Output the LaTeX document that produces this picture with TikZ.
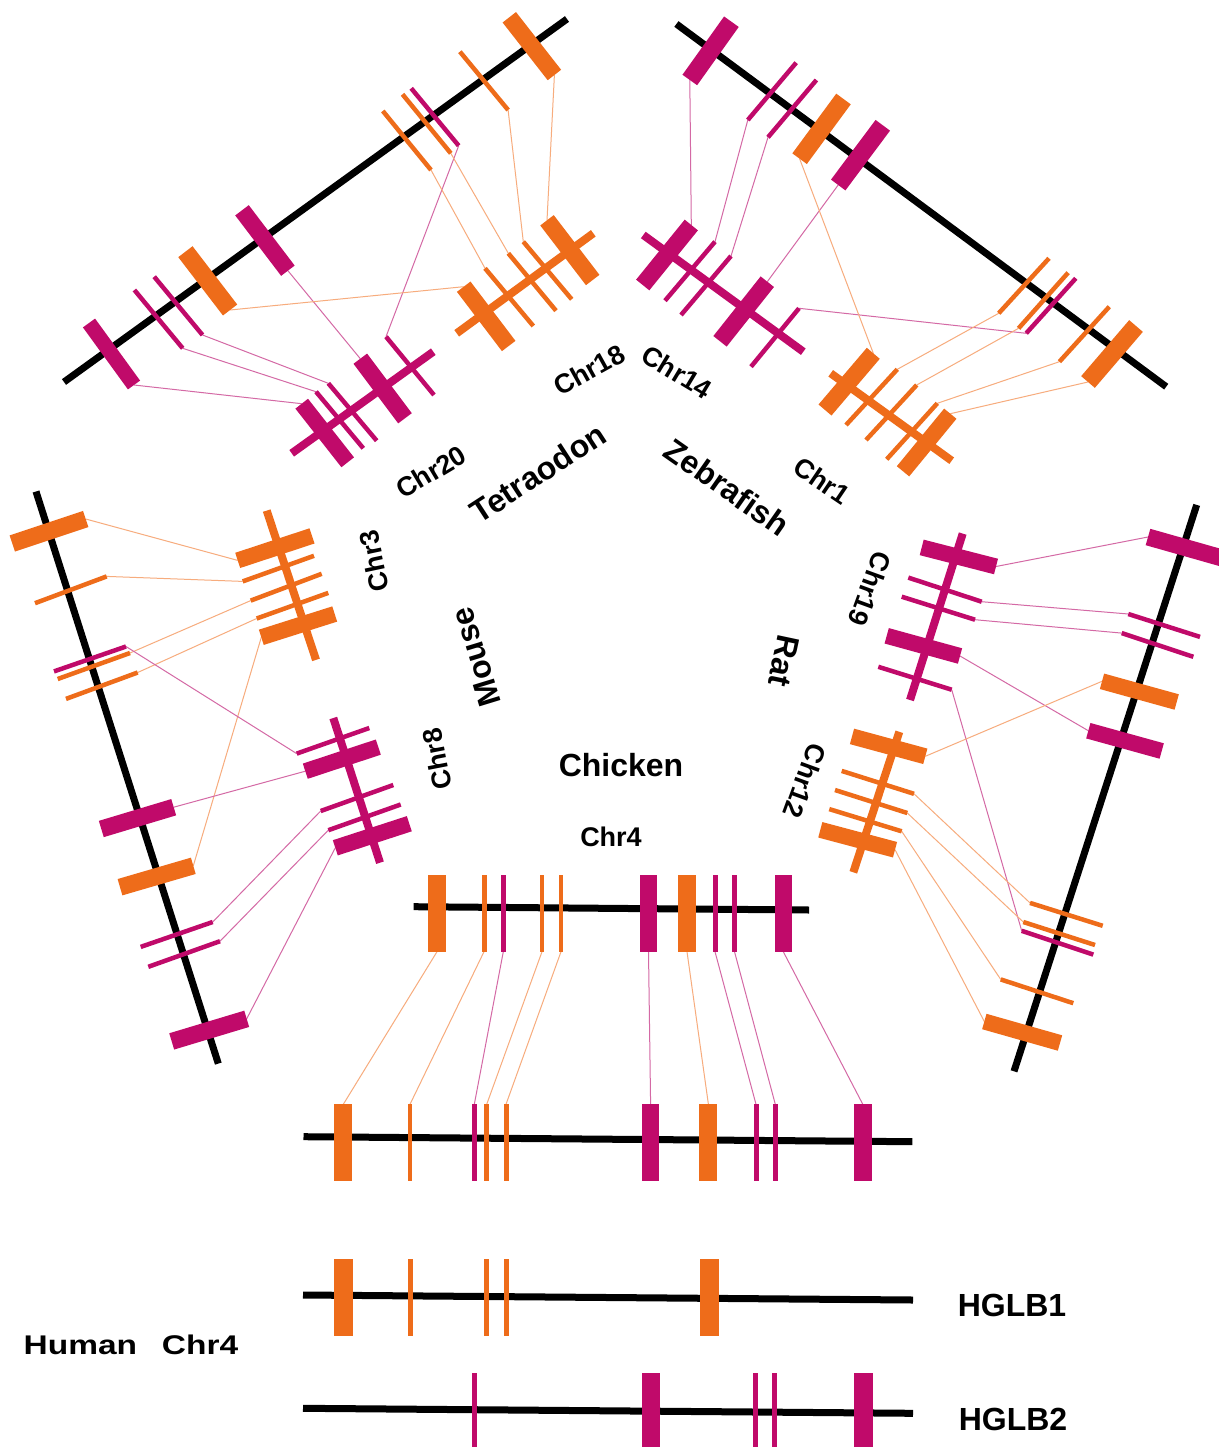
\documentclass[tikz,border=0pt]{standalone}
\usepackage{fontspec}
\setmainfont{Liberation Sans}
\definecolor{og}{RGB}{238,108,26}
\definecolor{mg}{RGB}{192,10,106}
\definecolor{ogl}{RGB}{247,172,125}
\definecolor{mgl}{RGB}{212,105,165}
\pgfdeclarelayer{back}
\pgfdeclarelayer{bg}
\pgfsetlayers{back,bg,main}
\newcommand\gene[5]{\coordinate (#1-1) at (#2); \coordinate (#1-2) at (#3); \draw[line width=#4pt, draw=#5] (#1-1) -- (#1-2);}
\newcommand\vgene[6]{\coordinate (#1-1) at (#2,#3); \coordinate (#1-2) at (#2,#4); \draw[line width=#5pt, draw=#6] (#1-1) -- (#1-2);}
\tikzset{
  conO/.style={draw=ogl, line width=1pt},
  conM/.style={draw=mgl, line width=1pt},
  chrom/.style={draw=black, line width=7pt},
  smallO/.style={draw=og, line width=8pt},
  smallM/.style={draw=mg, line width=8pt},
  lab/.style={font=\bfseries\fontsize{27}{29}\selectfont, inner sep=0pt},
  big/.style={font=\bfseries\fontsize{32}{34}\selectfont, inner sep=0pt}
}
\begin{document}
\begin{tikzpicture}[x=1pt,y=-1pt]
\useasboundingbox (0,0) rectangle (1218,1447);
\begin{pgfonlayer}{back}
\fill[white] (0,0) rectangle (1218,1447);
\end{pgfonlayer}

% ---------- Tetraodon ----------
\coordinate (TL1) at (64,382); \coordinate (TL2) at (567,19);
\draw[chrom] (TL1) -- (TL2);
\gene{ta}{89,323}{134,385}{15}{mg}
\gene{tb}{134.4,290}{182.7,348.3}{4.5}{mg}
\gene{tc}{154.2,276.7}{202.5,335}{4.5}{mg}
\gene{td}{185.4,251.7}{230.1,310}{18}{og}
\gene{te}{242,210.3}{287.9,270.7}{17}{mg}
\gene{tf}{382.8,111}{431,170}{4.5}{og}
\gene{tg}{402.5,94.3}{450.8,153.3}{4.5}{og}
\gene{th}{411.2,88.3}{458.7,145.7}{4.5}{mg}
\gene{ti}{459.9,51.7}{508.1,110}{4.5}{og}
\gene{tj}{509.3,17.3}{554.4,75}{17}{og}

\coordinate (U1) at (291.7,453.3); \coordinate (U2) at (433.3,351.7);
\draw[smallM] (U1) -- (U2);
\gene{ua}{301.7,403.7}{347.7,462.3}{16}{mg}
\gene{ub}{316,391.7}{363.3,448.3}{4.5}{mg}
\gene{uc}{328.3,383.3}{376.7,440.7}{4.5}{mg}
\gene{ud}{360.3,358.7}{405,418.3}{17}{mg}
\gene{ue}{386,336.7}{434,395}{4.5}{mg}

\coordinate (V1) at (456.7,333.3); \coordinate (V2) at (593.3,233.3);
\draw[smallO] (V1) -- (V2);
\gene{va}{463.7,286.7}{508.7,346}{17}{og}
\gene{vb}{485,268.3}{533.3,326}{4.5}{og}
\gene{vc}{508.3,253.3}{556,310.7}{4.5}{og}
\gene{vd}{523.3,241.7}{571.7,299.3}{4.5}{og}
\gene{ve}{547,220.3}{592.7,280}{17}{og}

% ---------- Zebrafish ----------
\coordinate (ZL1) at (676.4,24); \coordinate (ZL2) at (1166.2,386.7);
\draw[chrom] (ZL1) -- (ZL2);
\gene{za}{731.4,21.7}{689.8,80}{18}{mg}
\gene{zb}{796.2,62.7}{747.8,120}{4.5}{mg}
\gene{zc}{816.4,80}{768,137.3}{4.5}{mg}
\gene{zd}{843.5,99}{799.6,158.7}{18}{og}
\gene{ze}{882.8,125.3}{838.2,185}{18}{mg}
\gene{zf}{1049,258.3}{998.7,313.3}{4.5}{og}
\gene{zg}{1068.1,272.7}{1018.6,328.3}{4.5}{og}
\gene{zh}{1075.8,278.3}{1026.2,333.3}{4.5}{mg}
\gene{zi}{1109.3,306.7}{1059.4,361.7}{4.5}{og}
\gene{zj}{1136,326}{1088,382}{18}{og}

\coordinate (W1) at (643.3,235); \coordinate (W2) at (803.3,351.7);
\draw[smallM] (W1) -- (W2);
\gene{wa}{691.3,225}{642.7,285}{17}{mg}
\gene{wb}{715,241.7}{665,300.7}{4.5}{mg}
\gene{wc}{731,256}{681,315}{4.5}{mg}
\gene{wd}{767.3,281.7}{720,341.3}{17}{mg}
\gene{we}{799,308.3}{751,366.7}{4.5}{mg}

\coordinate (X1) at (830.7,373.3); \coordinate (X2) at (951.7,460.7);
\draw[smallO] (X1) -- (X2);
\gene{xa}{873.3,353.3}{825,410}{17}{og}
\gene{xb}{897.3,369.3}{846,425}{4.5}{og}
\gene{xc}{916.7,385}{866,440}{4.5}{og}
\gene{xd}{937.3,403.3}{886.7,459.3}{4.5}{og}
\gene{xe}{950.3,413.7}{903,471.3}{16}{og}

% ---------- Mouse ----------
\coordinate (ML1) at (36,491.5); \coordinate (ML2) at (218.3,1063.6);
\draw[chrom] (ML1) -- (ML2);
\gene{ma}{12.3,543.5}{85.7,519}{17}{og}
\gene{mb}{35,603.2}{106.7,576.4}{4.5}{og}
\gene{mc}{54,671.4}{126,646.5}{4.5}{mg}
\gene{md}{57.7,679}{130,653}{4.5}{og}
\gene{me}{66,698.9}{137.7,672.5}{4.5}{og}
\gene{mf}{101.3,829}{173.7,807.2}{17}{mg}
\gene{mg}{120,887.2}{193.3,865.8}{17}{og}
\gene{mh}{140.7,946.9}{212.7,922}{4.5}{mg}
\gene{mi}{148.3,966.8}{220,941.2}{4.5}{mg}
\gene{mj}{171.7,1041.4}{246.7,1018.8}{17}{mg}

\coordinate (N1) at (266.7,510.6); \coordinate (N2) at (316,659.9);
\draw[smallO] (N1) -- (N2);
\gene{na}{237.7,560.4}{312,535.9}{16}{og}
\gene{nb}{242.7,581.4}{314,555.8}{4.5}{og}
\gene{nc}{250.7,600.6}{321.7,573.8}{4.5}{og}
\gene{nd}{256.7,618.5}{328.3,592.9}{4.5}{og}
\gene{ne}{261.3,637.3}{334.7,614}{16}{og}

\coordinate (O1) at (333.3,718); \coordinate (O2) at (380,862.7);
\draw[smallM] (O1) -- (O2);
\gene{oa}{296.7,753.6}{369.3,728}{4.5}{mg}
\gene{ob}{305.3,771.2}{378.3,747.1}{16}{mg}
\gene{oc}{320.7,811}{393.3,785}{4.5}{mg}
\gene{od}{328.3,830.2}{400.7,804.5}{4.5}{mg}
\gene{oe}{335.3,847.8}{409.3,823.7}{16}{mg}

% ---------- Rat ----------
\coordinate (RL1) at (1196.7,504.9); \coordinate (RL2) at (1014,1071.3);
\draw[chrom] (RL1) -- (RL2);
\gene{ra}{1148,537}{1222,558}{17}{mg}
\gene{rb}{1128.3,614}{1200,636.9}{4.5}{mg}
\gene{rc}{1121.7,633.1}{1193.3,656.8}{4.5}{mg}
\gene{rd}{1102,681.3}{1176.7,702}{16}{og}
\gene{re}{1088.3,730.7}{1161.7,751}{16}{mg}
\gene{rf}{1030,902.9}{1102.7,925.8}{4.5}{og}
\gene{rg}{1023.3,922}{1095,945}{4.5}{og}
\gene{rh}{1021.7,930.8}{1093.3,954.6}{4.5}{mg}
\gene{ri}{1000.7,979.4}{1073.3,1003.2}{4.5}{og}
\gene{rj}{984.3,1021.5}{1060,1043}{16}{og}

\coordinate (S1) at (962.7,533.6); \coordinate (S2) at (910,700);
\draw[smallM] (S1) -- (S2);
\gene{sa}{921.7,547.4}{996,566.5}{16}{mg}
\gene{sb}{908.3,577.6}{981.7,601.7}{4.5}{mg}
\gene{sc}{901.7,596.7}{975,619.7}{4.5}{mg}
\gene{sd}{886.7,635.8}{960,656}{16}{mg}
\gene{se}{878.3,666.8}{951.7,689.7}{4.5}{mg}

\coordinate (Y1) at (899.3,731.8); \coordinate (Y2) at (853.3,872.3);
\draw[smallO] (Y1) -- (Y2);
\gene{ya}{852,736.4}{925.3,756.3}{16}{og}
\gene{yb}{841.7,770.9}{914,793.8}{4.5}{og}
\gene{yc}{835,790}{907.3,813}{4.5}{og}
\gene{yd}{829.3,809.1}{901.7,831.3}{4.5}{og}
\gene{ye}{820.3,829.8}{895,849.7}{16}{og}

% ---------- Chicken Chr4 ----------
\coordinate (C1) at (413.7,906.7); \coordinate (C2) at (809.2,910);
\draw[chrom] (C1) -- (C2);
\vgene{ca}{437}{875}{951.7}{18}{og}
\vgene{cb}{484}{875}{951.7}{5}{og}
\vgene{cc}{503.3}{875}{951.7}{4.5}{mg}
\vgene{cd}{542}{875}{951.7}{4.5}{og}
\vgene{ce}{561}{875}{951.7}{4.5}{og}
\vgene{cf}{648.5}{875}{951.7}{17.5}{mg}
\vgene{cg}{687}{875}{951.7}{18}{og}
\vgene{ch}{715}{875}{951.7}{5}{mg}
\vgene{ci}{734.5}{875}{951.7}{5}{mg}
\vgene{cj}{783.3}{875}{951.7}{17.5}{mg}

% ---------- Human merged ----------
\coordinate (H1) at (303.5,1136.7); \coordinate (H2) at (912.4,1141.7);
\draw[chrom] (H1) -- (H2);
\vgene{ha}{343.3}{1104.3}{1180.7}{18}{og}
\vgene{hb}{410}{1104.3}{1180.7}{4.5}{og}
\vgene{hc}{474.3}{1104.3}{1180.7}{5}{mg}
\vgene{hd}{486.7}{1104.3}{1180.7}{5}{og}
\vgene{he}{506}{1104.3}{1180.7}{5}{og}
\vgene{hf}{650.6}{1104.3}{1180.7}{17.5}{mg}
\vgene{hg}{708.4}{1104.3}{1180.7}{18}{og}
\vgene{hh}{756}{1104.3}{1180.7}{5}{mg}
\vgene{hi}{775.3}{1104.3}{1180.7}{5}{mg}
\vgene{hj}{862.8}{1104.3}{1180.7}{17.5}{mg}

% ---------- HGLB1 / HGLB2 ----------
\coordinate (G1a) at (303,1295); \coordinate (G1b) at (913,1300);
\draw[chrom] (G1a) -- (G1b);
\vgene{ga}{343.8}{1259.3}{1336}{19}{og}
\vgene{gb}{410}{1259.3}{1336}{5}{og}
\vgene{gc}{486.7}{1259.3}{1336}{5}{og}
\vgene{gd}{506}{1259.3}{1336}{5}{og}
\vgene{ge}{709}{1259.3}{1336}{19}{og}

\coordinate (G2a) at (303,1408.3); \coordinate (G2b) at (913,1413.3);
\draw[chrom] (G2a) -- (G2b);
\vgene{ka}{474.3}{1373.3}{1450}{5}{mg}
\vgene{kb}{651}{1373.3}{1450}{18.5}{mg}
\vgene{kc}{755.6}{1373.3}{1450}{5}{mg}
\vgene{kd}{774.3}{1373.3}{1450}{5}{mg}
\vgene{ke}{863.3}{1373.3}{1450}{18.5}{mg}

% ---------- connectors ----------
\begin{pgfonlayer}{bg}
\draw[conM] (ta-2) -- (ua-1);
\draw[conM] (tb-2) -- (ub-1);
\draw[conM] (tc-2) -- (uc-1);
\draw[conM] (te-2) -- (ud-1);
\draw[conM] (th-2) -- (ue-1);
\draw[conO] (td-2) -- (va-1);
\draw[conO] (tf-2) -- (vb-1);
\draw[conO] (tg-2) -- (vc-1);
\draw[conO] (ti-2) -- (vd-1);
\draw[conO] (tj-2) -- (ve-1);

\draw[conM] (za-2) -- (wa-1);
\draw[conM] (zb-2) -- (wb-1);
\draw[conM] (zc-2) -- (wc-1);
\draw[conM] (ze-2) -- (wd-1);
\draw[conM] (zh-2) -- (we-1);
\draw[conO] (zd-2) -- (xa-1);
\draw[conO] (zf-2) -- (xb-1);
\draw[conO] (zg-2) -- (xc-1);
\draw[conO] (zi-2) -- (xd-1);
\draw[conO] (zj-2) -- (xe-1);

\draw[conO] (ma-2) -- (na-1);
\draw[conO] (mb-2) -- (nb-1);
\draw[conO] (md-2) -- (nc-1);
\draw[conO] (me-2) -- (nd-1);
\draw[conO] (mg-2) -- (ne-1);
\draw[conM] (mc-2) -- (oa-1);
\draw[conM] (mf-2) -- (ob-1);
\draw[conM] (mh-2) -- (oc-1);
\draw[conM] (mi-2) -- (od-1);
\draw[conM] (mj-2) -- (oe-1);

\draw[conM] (ra-1) -- (sa-2);
\draw[conM] (rb-1) -- (sb-2);
\draw[conM] (rc-1) -- (sc-2);
\draw[conM] (re-1) -- (sd-2);
\draw[conM] (rh-1) -- (se-2);
\draw[conO] (rd-1) -- (ya-2);
\draw[conO] (rf-1) -- (yb-2);
\draw[conO] (rg-1) -- (yc-2);
\draw[conO] (ri-1) -- (yd-2);
\draw[conO] (rj-1) -- (ye-2);

\draw[conO] (ca-2) -- (ha-1);
\draw[conO] (cb-2) -- (hb-1);
\draw[conM] (cc-2) -- (hc-1);
\draw[conO] (cd-2) -- (hd-1);
\draw[conO] (ce-2) -- (he-1);
\draw[conM] (cf-2) -- (hf-1);
\draw[conO] (cg-2) -- (hg-1);
\draw[conM] (ch-2) -- (hh-1);
\draw[conM] (ci-2) -- (hi-1);
\draw[conM] (cj-2) -- (hj-1);
\end{pgfonlayer}

% ---------- labels ----------
\node[lab, rotate=29] (l18) at (589,370) {Chr18};
\node[lab, rotate=-31] (l14) at (677,372) {Chr14};
\node[big, rotate=33] (ltet) at (538,473) {Tetraodon};
\node[big, rotate=-35] (lzeb) at (727,487) {Zebrafish};
\node[lab, rotate=31] (l20) at (431,472) {Chr20};
\node[lab, rotate=-34] (l1) at (822,481) {Chr1};
\node[lab, rotate=102] (l3) at (374,561) {Chr3};
\node[big, rotate=107] (lmou) at (476,657) {Mouse};
\node[lab, rotate=101] (l8) at (437,759) {Chr8};
\node[big] (lchi) at (621,765) {Chicken};
\node[lab] (l4) at (611,837) {Chr4};
\node[big, rotate=-102] (lrat) at (784,661) {Rat};
\node[lab, rotate=-110] (l19) at (870,589) {Chr19};
\node[lab, rotate=-110] (l12) at (805,781) {Chr12};
\node[big] (lg1) at (1012,1305) {HGLB1};
\node[big] (lg2) at (1013,1419) {HGLB2};
\node[lab, xscale=1.24] (lhum) at (131,1345) {Human\hspace{20pt}Chr4};
\end{tikzpicture}
\end{document}
